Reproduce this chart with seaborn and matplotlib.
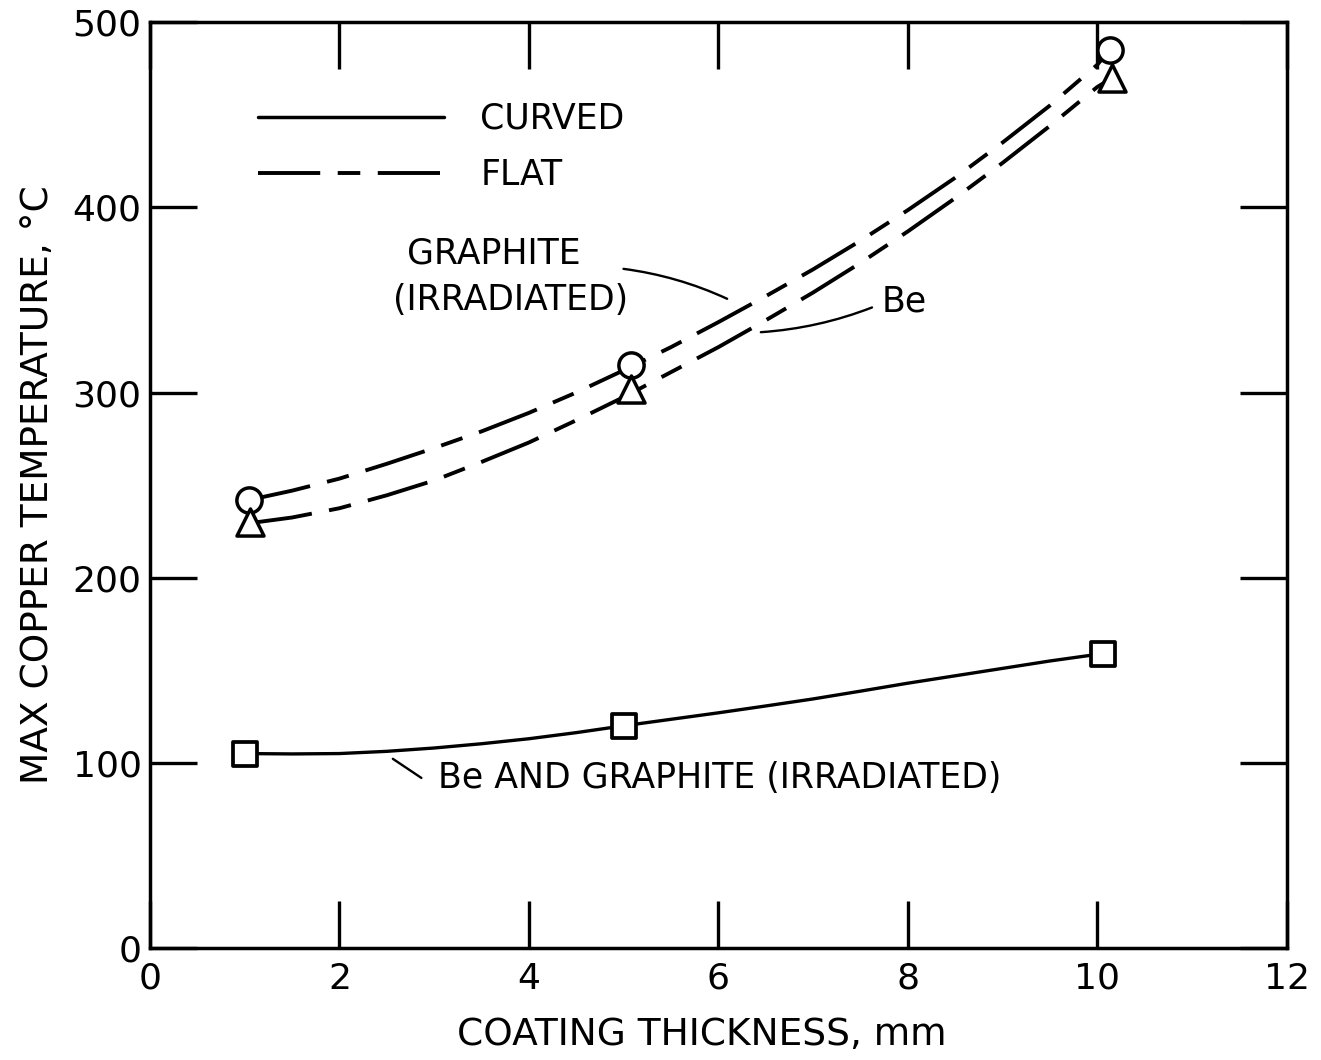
import matplotlib
matplotlib.use('Agg')
import matplotlib.pyplot as plt
import seaborn as sns
from matplotlib.lines import Line2D

# measured points (x = coating thickness mm, y = max copper temperature C)
graphite_x = [1.05, 5.08, 10.13]
graphite_y = [242, 315, 485]
be_x = [1.06, 5.08, 10.16]
be_y = [230, 302, 470]
curved_x = [1.0, 5.0, 10.06]
curved_y = [105, 120, 159]

# points
graphite_curve_x = [1.05, 1.5, 2, 2.5, 3, 3.5, 4, 4.5, 5, 5.5, 6, 6.5, 7,
                    7.5, 8, 8.5, 9, 9.5, 10, 10.13]
graphite_curve_y = [242, 247, 253.5, 261.5, 270, 279, 289, 300, 312, 324.5,
                    338, 352, 366.5, 382, 398.5, 416, 435, 455, 477, 485]
be_curve_x = [1.06, 1.5, 2, 2.5, 3, 3.5, 4, 4.5, 5, 5.5, 6, 6.5, 7, 7.5, 8,
              8.5, 9, 9.5, 10, 10.16]
be_curve_y = [229.5, 232.5, 237.5, 244.5, 252.5, 262.5, 273, 285, 297.5, 311,
              324.5, 339, 354, 370, 387, 405, 424, 444, 465, 470]
curved_curve_x = [1.0, 1.5, 2, 2.5, 3, 3.5, 4, 4.5, 5, 5.5, 6, 6.5, 7, 7.5,
                  8, 8.5, 9, 9.5, 10.06]
curved_curve_y = [105, 104.8, 105, 106.2, 108, 110.3, 113, 116.3, 120, 123.5,
                  127, 130.7, 134.5, 138.7, 143, 147, 151, 155, 159]

x_ticks = [0, 2, 4, 6, 8, 10, 12]
y_ticks = [0, 100, 200, 300, 400, 500]

sns.set_style('ticks')
plt.rcParams['font.family'] = ['DejaVu Sans']
plt.rcParams['text.color'] = 'black'
plt.rcParams['axes.labelcolor'] = 'black'
plt.rcParams['xtick.color'] = 'black'
plt.rcParams['ytick.color'] = 'black'

fig = plt.figure(figsize=(13.21, 10.6), dpi=100)
ax = fig.add_axes([0.1135, 0.1057, 0.8605, 0.8733])

dash = (0, (16, 4.5, 5.8, 4.5))
sns.lineplot(x=graphite_curve_x, y=graphite_curve_y, ax=ax, color='black',
             lw=2.8, linestyle=dash, sort=False)
sns.lineplot(x=be_curve_x, y=be_curve_y, ax=ax, color='black',
             lw=2.8, linestyle=dash, sort=False)
sns.lineplot(x=curved_curve_x, y=curved_curve_y, ax=ax, color='black',
             lw=2.4, sort=False)

sns.scatterplot(x=graphite_x, y=graphite_y, ax=ax, marker='o', s=330,
                color='white', edgecolor='black', linewidth=2.5, zorder=5)
sns.scatterplot(x=be_x, y=be_y, ax=ax, marker='^', s=380,
                color='white', edgecolor='black', linewidth=2.5, zorder=5)
sns.scatterplot(x=curved_x, y=curved_y, ax=ax, marker='s', s=300,
                color='white', edgecolor='black', linewidth=2.7, zorder=5)

ax.set_xlim(0, 12)
ax.set_ylim(0, 500)
ax.set_xticks(x_ticks)
ax.set_yticks(y_ticks)
ax.tick_params(axis='both', direction='in', length=34, width=2.4,
               top=True, right=True, labelsize=26, color='black',
               labelcolor='black')
ax.tick_params(axis='x', pad=10)
ax.tick_params(axis='y', pad=6)
for s in ax.spines.values():
    s.set_linewidth(2.5)
    s.set_color('black')

ax.set_xlabel('COATING THICKNESS, mm', fontsize=27, labelpad=12)
ax.set_ylabel('MAX COPPER TEMPERATURE, °C', fontsize=27, labelpad=12)
ax.xaxis.set_label_coords(0.4855, -0.075)

# legend for the two geometries
handles = [Line2D([], [], color='black', lw=2.5),
           Line2D([], [], color='black', lw=2.8, linestyle=dash)]
ax.legend(handles, ['CURVED', 'FLAT'], loc='upper left',
          bbox_to_anchor=(0.095, 0.914), frameon=False, fontsize=25,
          handlelength=5.35, handletextpad=1.05, labelspacing=0.65,
          borderpad=0, borderaxespad=0)

# annotations
lbl = dict(fontsize=25, color='black')
ax.text(3.63, 375, 'GRAPHITE', ha='center', va='center', **lbl)
ax.text(3.81, 350, '(IRRADIATED)', ha='center', va='center', **lbl)
ax.annotate('', xy=(6.12, 350), xytext=(4.97, 367),
            arrowprops=dict(arrowstyle='-', lw=1.7, color='black',
                            connectionstyle='arc3,rad=-0.08'))
ax.text(7.72, 349, 'Be', ha='left', va='center', **lbl)
ax.annotate('', xy=(6.42, 332.5), xytext=(7.65, 346.5),
            arrowprops=dict(arrowstyle='-', lw=1.7, color='black',
                            connectionstyle='arc3,rad=-0.08'))
ax.text(3.04, 92, 'Be AND GRAPHITE (IRRADIATED)', ha='left', va='center', **lbl)
ax.annotate('', xy=(2.89, 91), xytext=(2.54, 103),
            arrowprops=dict(arrowstyle='-', lw=1.7, color='black'))

fig.savefig('out.png', dpi=100)
